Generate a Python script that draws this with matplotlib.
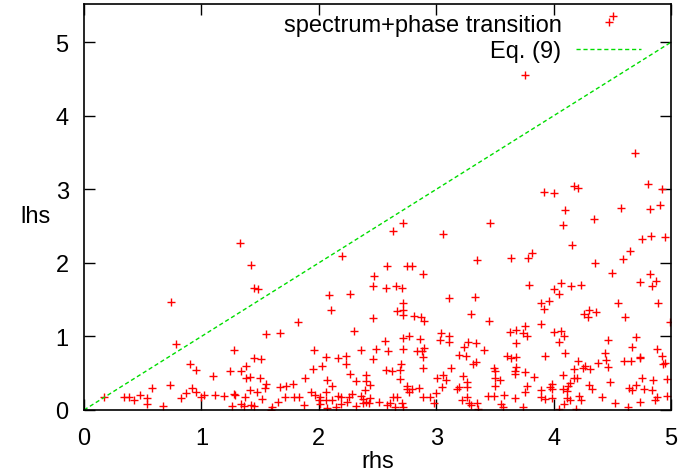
import matplotlib
matplotlib.use("Agg")
import matplotlib.pyplot as plt

# (rhs, lhs) pairs
rhs = [4.51, 3.76, 4.69, 3.92, 4.00, 4.17, 4.21, 4.80, 4.92,
       0.74, 1.33, 1.42, 1.45, 1.48, 2.20, 2.09, 2.27, 2.47, 2.46,
       2.63, 2.72, 3.46, 3.06, 4.10, 4.08, 4.34, 4.57, 4.82, 4.91,
       4.16, 4.75, 4.83, 4.95, 4.65, 4.59, 4.35, 4.50, 4.82, 4.74,
       4.87, 4.84, 3.64, 3.78, 3.82, 3.35, 2.58, 2.75, 2.79, 2.89,
       2.57, 2.66, 2.71, 2.72, 3.11, 3.33, 3.79, 4.06, 4.00, 4.05,
       4.15, 4.23, 3.96, 3.89, 4.55, 4.89,
       0.78, 1.28,
       2.10, 1.82, 1.55, 1.67, 2.46, 2.30, 1.96, 2.36, 2.49, 2.56,
       1.45, 1.51, 2.06, 2.16, 2.23, 2.46,
       2.67, 2.72, 2.72, 2.81, 2.87, 2.90, 3.30, 3.45, 3.04, 3.11,
       3.03, 3.11, 2.72, 2.77, 2.86, 2.59, 2.72, 2.84, 2.88, 2.90,
       2.89, 3.19, 3.25, 3.24, 3.27, 3.34, 3.41, 3.63, 3.68, 3.76,
       3.74, 3.77, 3.68, 3.60, 3.68,
       3.92, 4.30, 4.26, 4.29, 4.36, 4.61, 4.99, 3.89, 4.00, 4.06,
       4.09, 4.05, 4.46, 4.70, 4.67, 4.10, 4.44, 4.88, 4.92, 3.93,
       4.74,
       0.90, 0.95, 1.10, 1.24, 0.17, 0.34, 0.38, 0.43, 0.48, 0.54,
       0.54, 0.58, 0.73, 0.67, 0.83, 0.87, 0.92, 0.95, 1.00, 1.02,
       1.12, 1.19, 1.28, 1.26,
       2.23, 1.38, 1.34, 1.38, 1.41, 1.50, 1.55, 1.54, 1.41, 1.47,
       1.29, 1.37, 1.52, 1.34, 1.36, 1.42, 1.45, 1.60, 1.59, 1.65,
       1.67, 1.72, 1.78, 1.71, 1.79, 1.83, 1.87, 1.88, 1.95, 2.03,
       2.07, 2.11, 1.93, 1.97, 2.01, 2.06, 2.00, 2.01, 2.06, 2.11,
       2.07, 2.15, 2.16, 2.19, 2.19, 2.24, 2.27, 2.32, 2.40, 2.40,
       2.44, 2.39, 2.28, 2.26, 2.36, 2.38, 2.44, 2.38, 2.40, 2.43,
       2.32, 2.51, 2.57,
       2.89, 2.62, 2.70, 2.69, 2.69, 2.75, 2.75, 2.79, 2.77, 2.85,
       2.63, 2.67, 2.58, 2.61, 2.65, 2.71, 2.72, 2.89, 2.95, 2.98,
       3.00, 3.05, 3.01, 3.06, 3.08, 3.13, 3.18, 3.19, 3.23, 3.26,
       3.26, 3.26, 3.22, 3.28, 3.30, 3.35, 3.36, 3.31, 3.34, 3.44,
       3.49, 3.58, 3.49, 3.50, 3.50, 3.54, 3.50, 3.55, 3.57, 3.64,
       3.68, 3.67, 3.67, 3.76, 3.83, 3.77, 3.76, 3.67, 3.74,
       4.21, 4.17, 4.25, 4.27, 4.31, 4.38, 4.45, 4.46, 4.60, 4.66,
       4.74, 4.93, 4.95, 4.08, 4.17, 4.20, 4.14, 4.12, 4.48, 4.30,
       4.33, 4.75, 4.85, 4.97, 4.70, 4.64, 4.67, 4.77, 4.84, 3.89,
       3.97, 3.99, 3.99, 4.08, 4.11, 3.89, 3.93, 3.99, 4.11, 4.14,
       4.22, 4.23, 4.09, 4.05, 4.19, 4.41, 4.52, 4.63, 4.74, 4.88,
       4.86, 4.97]

lhs = [5.36, 4.55, 3.49, 2.97, 2.95, 3.04, 3.02, 3.07, 3.00,
       1.47, 2.27, 1.97, 1.66, 1.64, 2.10, 1.57, 1.58, 1.82, 1.68,
       2.44, 2.54, 2.54, 2.39, 2.72, 2.52, 2.60, 2.74, 2.73, 2.79,
       2.25, 2.33, 2.36, 2.35, 2.16, 2.05, 2.00, 1.86, 1.85, 1.74,
       1.75, 1.68, 2.07, 2.07, 2.13, 2.04, 1.96, 1.96, 1.96, 1.85,
       1.66, 1.69, 1.66, 1.46, 1.52, 1.53, 1.70, 1.72, 1.64, 1.58,
       1.68, 1.70, 1.48, 1.45, 1.46, 1.46,
       0.90, 0.82,
       1.36, 1.20, 1.04, 1.05, 1.25, 1.07, 0.81, 0.82, 0.83, 0.94,
       0.71, 0.70, 0.72, 0.71, 0.74, 0.69,
       1.35, 1.36, 1.29, 1.28, 1.26, 1.21, 1.30, 1.21, 1.05, 1.01,
       0.95, 0.93, 0.98, 1.01, 0.96, 0.80, 0.83, 0.80, 0.80, 0.84,
       0.72, 0.75, 0.73, 0.86, 0.93, 0.91, 0.82, 1.06, 1.09, 1.14,
       1.05, 1.00, 0.91, 0.74, 0.72,
       1.38, 1.36, 1.31, 1.26, 1.33, 1.27, 1.20, 1.17, 1.06, 1.07,
       1.00, 0.92, 0.95, 0.99, 0.86, 0.78, 0.78, 0.83, 0.74, 0.73,
       0.72,
       0.62, 0.54, 0.46, 0.53, 0.18, 0.17, 0.17, 0.14, 0.21, 0.16,
       0.08, 0.30, 0.34, 0.06, 0.16, 0.23, 0.30, 0.25, 0.18, 0.20,
       0.21, 0.19, 0.22, 0.06,
       0.63, 0.60, 0.53, 0.44, 0.45, 0.44, 0.36, 0.30, 0.27, 0.25,
       0.21, 0.18, 0.15, 0.08, 0.05, 0.07, 0.06, 0.04, 0.00, 0.11,
       0.31, 0.33, 0.35, 0.18, 0.18, 0.17, 0.07, 0.44, 0.56, 0.60,
       0.41, 0.32, 0.24, 0.21, 0.17, 0.24, 0.14, 0.08, 0.13, 0.14,
       0.03, 0.04, 0.19, 0.18, 0.08, 0.11, 0.49, 0.40, 0.47, 0.39,
       0.34, 0.27, 0.22, 0.17, 0.19, 0.15, 0.16, 0.09, 0.11, 0.10,
       0.05, 0.11, 0.55,
       0.57, 0.53, 0.62, 0.54, 0.42, 0.33, 0.28, 0.28, 0.25, 0.30,
       0.18, 0.18, 0.07, 0.10, 0.04, 0.10, 0.04, 0.17, 0.17, 0.10,
       0.23, 0.31, 0.44, 0.47, 0.41, 0.57, 0.29, 0.31, 0.46, 0.38,
       0.31, 0.18, 0.13, 0.09, 0.07, 0.09, 0.02, 0.63, 0.65, 0.19,
       0.19, 0.21, 0.57, 0.53, 0.43, 0.41, 0.32, 0.08, 0.04, 0.71,
       0.58, 0.53, 0.49, 0.51, 0.45, 0.33, 0.24, 0.16, 0.04,
       0.66, 0.56, 0.57, 0.60, 0.56, 0.64, 0.68, 0.59, 0.66, 0.66,
       0.71, 0.62, 0.64, 0.48, 0.43, 0.44, 0.37, 0.33, 0.38, 0.34,
       0.29, 0.44, 0.41, 0.42, 0.34, 0.30, 0.27, 0.29, 0.27, 0.27,
       0.31, 0.35, 0.29, 0.29, 0.26, 0.17, 0.15, 0.16, 0.16, 0.13,
       0.19, 0.14, 0.08, 0.01, 0.01, 0.18, 0.09, 0.04, 0.11, 0.18,
       0.14, 0.19]

line_x = [0, 5]
line_y = [0, 5]

x_ticks = [0, 1, 2, 3, 4, 5]
y_ticks = [0, 1, 2, 3, 4, 5]

plt.rcParams['font.family'] = ['Liberation Sans', 'DejaVu Sans']

fig = plt.figure(figsize=(6.81, 4.77), dpi=100)
ax = fig.add_axes([84/681, 66/477, 587/681, 406/477])

ax.plot(rhs, lhs, linestyle='none', marker='+', color='#ff0000',
        markersize=6, markeredgewidth=1.0, label='spectrum+phase transition')
ax.plot(line_x, line_y, color='#00dd00', linewidth=1.0,
        dashes=(3, 2), label='Eq. (9)')

ax.set_xlim(0, 5)
ax.set_ylim(0, 5.52)
ax.set_xticks(x_ticks)
ax.set_yticks(y_ticks)
ax.tick_params(direction='in', length=8, width=1, top=True, right=True,
               labelsize=17, colors='black')
ax.tick_params(axis='x', pad=12)
ax.tick_params(axis='y', pad=11)
for s in ax.spines.values():
    s.set_linewidth(1.2)

ax.set_xlabel('rhs', fontsize=17, va='center')
ax.set_ylabel('lhs', fontsize=17, rotation=0, va='center', ha='center')
ax.xaxis.set_label_coords((378 - 84) / 587, (411 - 462) / 406)
ax.yaxis.set_label_coords((36 - 84) / 587, (411 - 217) / 406)

ax.legend(loc='upper right', bbox_to_anchor=(0.977, 1.017), frameon=False,
          markerfirst=False, fontsize=17, handlelength=2.75,
          handletextpad=0.62, labelspacing=0.2, borderpad=0.2)

fig.savefig('out.png', dpi=100)
